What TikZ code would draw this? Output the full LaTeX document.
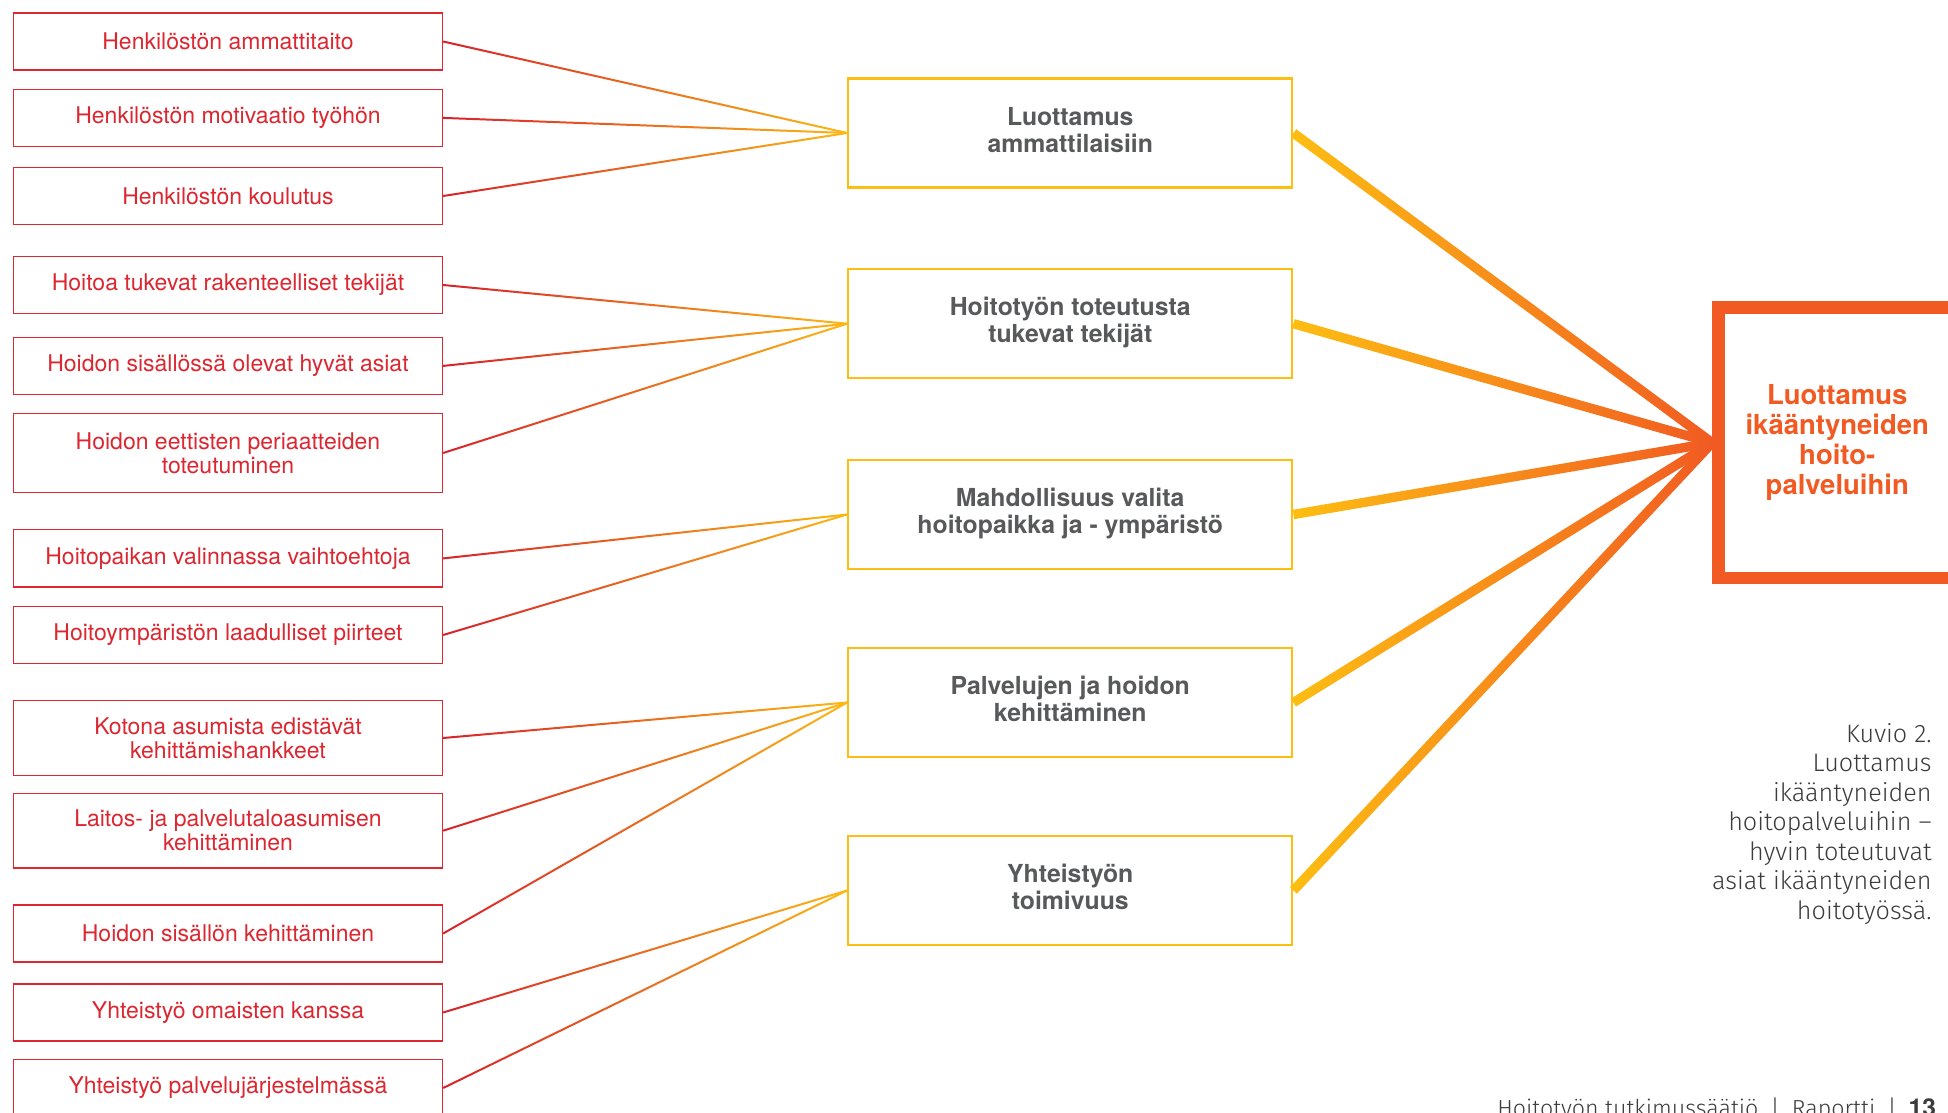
\documentclass[tikz,border=0pt]{standalone}
\usepackage{fontspec}
\setmainfont{TeX Gyre Heros}
\newfontfamily\lightfont{Fira Sans Light}
\usetikzlibrary{calc}
\pgfdeclarelayer{back}
\pgfdeclarelayer{lines}
\pgfsetlayers{back,lines,main}
\definecolor{lred}{RGB}{220,38,48}
\definecolor{linered}{RGB}{214,34,44}
\definecolor{myyellow}{RGB}{253,190,18}
\definecolor{lineyellow}{RGB}{252,184,20}
\definecolor{myorange}{RGB}{241,90,34}
\definecolor{mygray}{RGB}{88,89,91}
\definecolor{capgray}{RGB}{60,60,62}
\newcommand\gradline[5]{%
  \shade[left color=#4, right color=#5]
    ($(#1)!#3!90:(#2)$) -- ($(#2)!#3!-90:(#1)$) --
    ($(#2)!#3!90:(#1)$) -- ($(#1)!#3!-90:(#2)$) -- cycle;}
\tikzset{
  leftbox/.style={draw=lred, line width=0.65pt, minimum width=214.5pt,
    minimum height=#1, inner sep=0pt, align=center, text=lred,
    font=\fontsize{11.5}{12}\selectfont},
  leftbox/.default=28.6pt,
  midbox/.style={draw=myyellow, line width=1.2pt, minimum width=222pt,
    minimum height=54.5pt, inner sep=0pt, align=center, text=mygray,
    font=\bfseries\fontsize{12.4}{13.5}\selectfont,
    execute at end node={\rule[-3.5pt]{0pt}{3.5pt}}},
  bigbox/.style={draw=myorange, line width=6.25pt, minimum width=118.75pt,
    minimum height=135.25pt, inner sep=0pt, align=center, text=myorange,
    font=\bfseries\fontsize{13.75}{15}\selectfont},
}
\begin{document}
\begin{tikzpicture}[x=0.5pt,y=-0.5pt]
\useasboundingbox (0,0) rectangle (1948,1113);
\clip (0,0) rectangle (1948,1113);
\begin{pgfonlayer}{back}
\fill[white] (0,0) rectangle (1948,1113);
\end{pgfonlayer}
% left boxes
\node[leftbox] (b1) at (228,41.5) {Henkilöstön ammattitaito};
\node[leftbox] (b2) at (228,117.9) {Henkilöstön motivaatio työhön};
\node[leftbox] (b3) at (228,196) {Henkilöstön koulutus};
\node[leftbox] (b4) at (228,285) {Hoitoa tukevat rakenteelliset tekijät};
\node[leftbox] (b5) at (228,365.9) {Hoidon sisällössä olevat hyvät asiat};
\node[leftbox=39.7pt] (b6) at (228,453) {Hoidon eettisten periaatteiden\\toteutuminen};
\node[leftbox] (b7) at (228,558.4) {Hoitopaikan valinnassa vaihtoehtoja};
\node[leftbox] (b8) at (228,635) {Hoitoympäristön laadulliset piirteet};
\node[leftbox=37.4pt] (b9) at (228,738) {Kotona asumista edistävät\\kehittämishankkeet};
\node[leftbox=37.4pt] (b10) at (228,830.7) {Laitos- ja palvelutaloasumisen\\kehittäminen};
\node[leftbox] (b11) at (228,933.5) {Hoidon sisällön kehittäminen};
\node[leftbox] (b12) at (228,1012.5) {Yhteistyö omaisten kanssa};
\node[leftbox] (b13) at (228,1088) {Yhteistyö palvelujärjestelmässä};
% middle boxes
\node[midbox] (mA) at (1070.25,133) {Luottamus\\ammattilaisiin};
\node[midbox] (mB) at (1070.25,323.7) {Hoitotyön toteutusta\\tukevat tekijät};
\node[midbox] (mC) at (1070.25,514.5) {Mahdollisuus valita\\hoitopaikka ja - ympäristö};
\node[midbox] (mD) at (1070.25,702.5) {Palvelujen ja hoidon\\kehittäminen};
\node[midbox] (mE) at (1070.25,890.5) {Yhteistyön\\toimivuus};
% right box
\node[bigbox] (R) at (1837.25,442.75) {Luottamus\\ikääntyneiden\\hoito-\\palveluihin};
% caption
\node[anchor=north east, align=right, inner sep=0pt, text=capgray,
  font=\lightfont\fontsize{12.6}{14.75}\selectfont] (cap) at (1932,723)
  {Kuvio 2.\\Luottamus\\ikääntyneiden\\hoitopalveluihin –\\hyvin toteutuvat\\asiat ikääntyneiden\\hoitotyössä.};
% footer
\node[anchor=north west, inner sep=0pt, text=capgray,
  font=\lightfont\fontsize{11.6}{14}\selectfont] (foot) at (1497,1097)
  {Hoitotyön tutkimussäätiö\hspace{6pt}|\hspace{6pt}Raportti\hspace{6pt}|\hspace{6pt}{\normalfont\bfseries\fontsize{12.3}{14}\selectfont 13}};
% connectors
\begin{pgfonlayer}{lines}
\foreach \l/\m in {b1/mA,b2/mA,b3/mA,b4/mB,b5/mB,b6/mB,b7/mC,b8/mC,b9/mD,b10/mD,b11/mD,b12/mE,b13/mE}{
  \gradline{\l.east}{\m.west}{0.5pt}{linered}{lineyellow}
}
\foreach \m in {mA,mB,mC,mD,mE}{
  \gradline{\m.east}{R.west}{2.35pt}{myyellow}{myorange}
}
\end{pgfonlayer}
\end{tikzpicture}
\end{document}
